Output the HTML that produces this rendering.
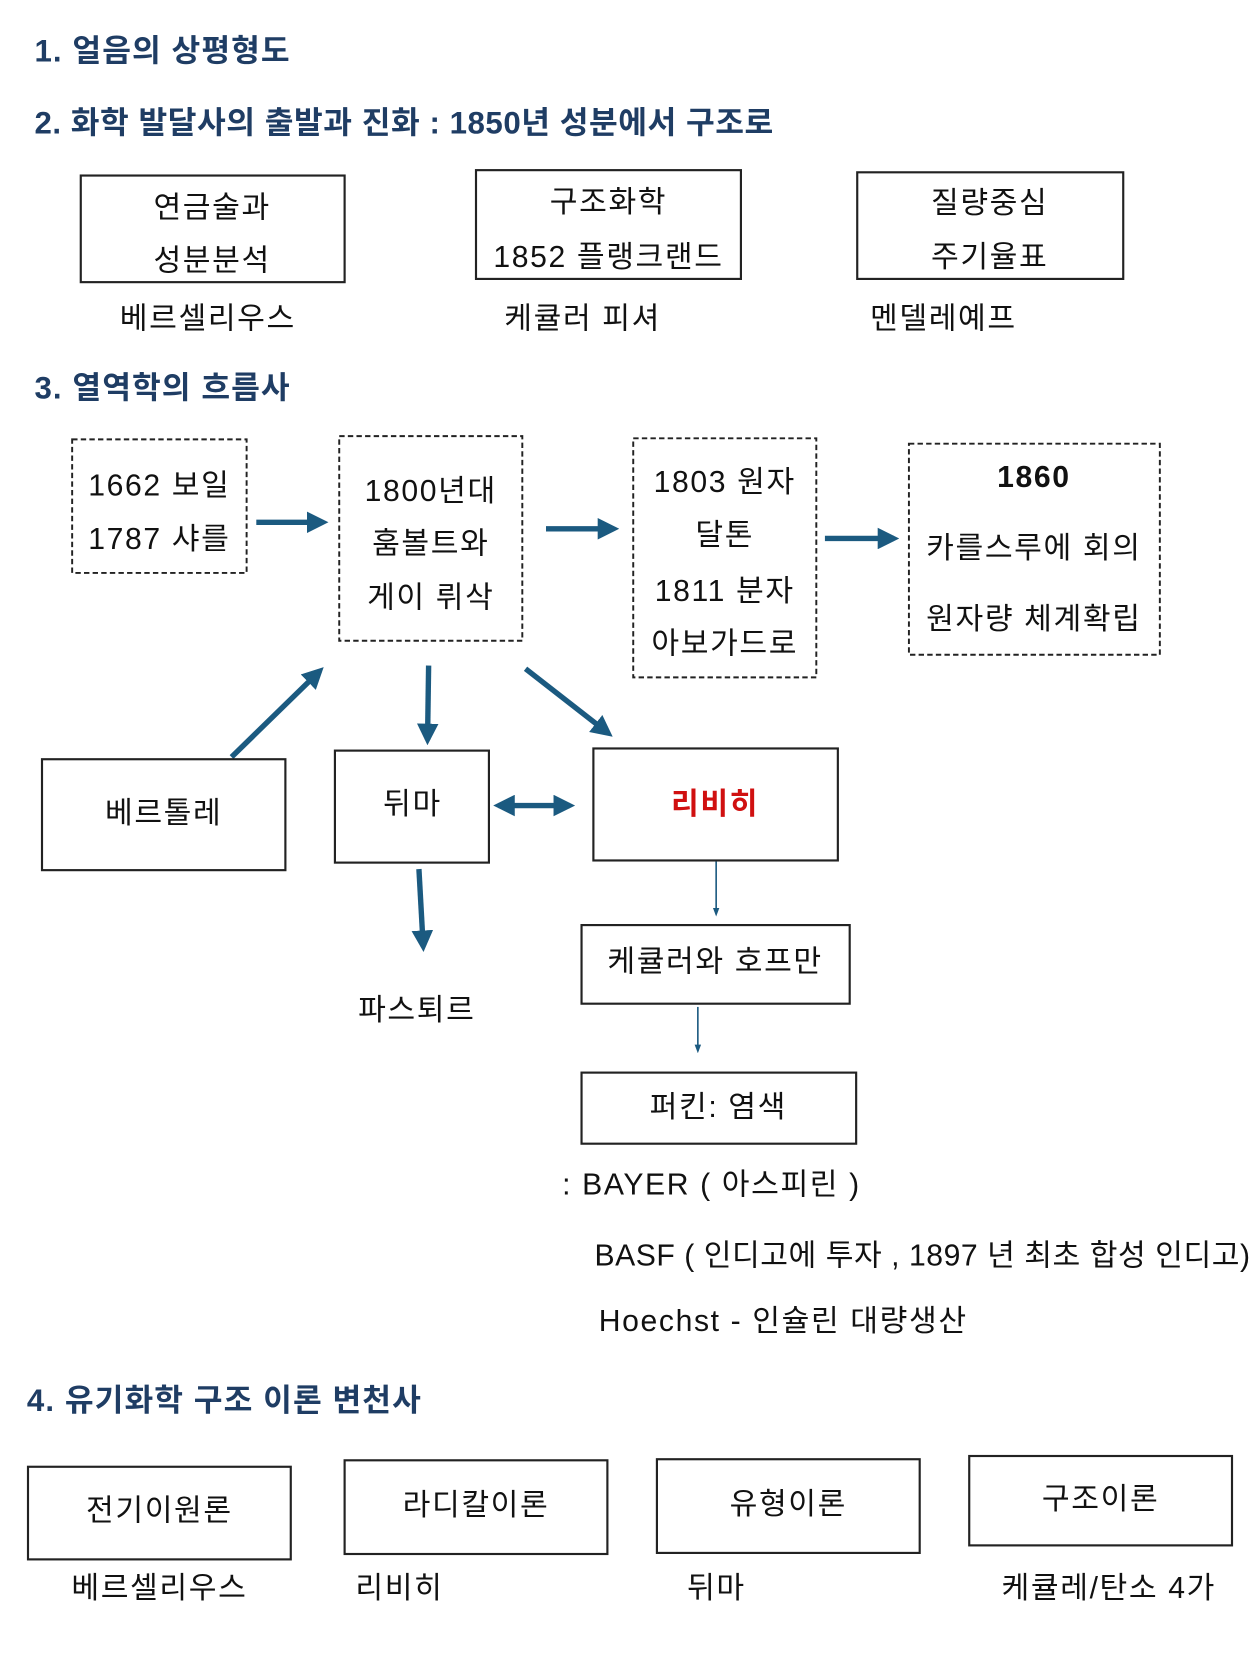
<!DOCTYPE html>
<html><head><meta charset="utf-8"><style>
html,body{margin:0;padding:0;background:#fff;}
svg{display:block;}
text{font-family:"Liberation Sans","Noto Sans CJK KR",sans-serif;fill:#111;font-size:28px;letter-spacing:1.5px;}
.h{fill:#1f3d64;font-weight:bold;font-size:29px;letter-spacing:1px;}
.c{text-anchor:middle;}
</style></head><body>
<svg width="1260" height="1680" viewBox="0 0 1170 1560" xmlns="http://www.w3.org/2000/svg">
<defs>
<marker id="a" markerWidth="4" markerHeight="4" refX="3" refY="2" orient="auto" markerUnits="strokeWidth"><path d="M0,0 L4,2 L0,4 z" fill="#1b5a80"/></marker>
<marker id="b" markerWidth="4" markerHeight="4" refX="1" refY="2" orient="auto" markerUnits="strokeWidth"><path d="M4,0 L0,2 L4,4 z" fill="#1b5a80"/></marker>
<marker id="t" markerWidth="8" markerHeight="8" refX="6" refY="4" orient="auto" markerUnits="userSpaceOnUse"><path d="M0,1 L8,4 L0,7 z" fill="#1b5a80"/></marker>
</defs>
<text class="h" x="32" y="57">1.  얼음의 상평형도</text>
<text class="h" x="32" y="124" style="letter-spacing:0.5px">2.  화학 발달사의 출발과 진화 : 1850년 성분에서 구조로</text>
<text class="h" x="32" y="370">3.  열역학의 흐름사</text>
<text class="h" x="25" y="1310">4.  유기화학 구조 이론 변천사</text>

<g fill="none" stroke="#222" stroke-width="2">
<rect x="75" y="163" width="245" height="99"/>
<rect x="442" y="158" width="246" height="101"/>
<rect x="796" y="160" width="247" height="99"/>
</g>
<text class="c" x="197" y="202">연금술과</text><text class="c" x="197" y="251">성분분석</text>
<text class="c" x="565" y="197">구조화학</text><text class="c" x="565" y="248">1852 플랭크랜드</text>
<text class="c" x="919" y="198">질량중심</text><text class="c" x="919" y="248">주기율표</text>
<text class="c" x="193" y="305">베르셀리우스</text>
<text class="c" x="541" y="305">케큘러 피셔</text>
<text class="c" x="876" y="305">멘델레예프</text>

<g fill="none" stroke="#222" stroke-width="1.8" stroke-dasharray="5,3">
<rect x="67" y="408" width="162" height="124"/>
<rect x="315" y="405" width="170" height="190"/>
<rect x="588" y="407" width="170" height="222"/>
<rect x="844" y="412" width="233" height="196"/>
</g>
<text class="c" x="148" y="460">1662 보일</text><text class="c" x="148" y="510">1787 샤를</text>
<text class="c" x="400" y="465">1800년대</text><text class="c" x="400" y="514">훔볼트와</text><text class="c" x="400" y="564">게이 뤼삭</text>
<text class="c" x="673" y="457">1803 원자</text><text class="c" x="673" y="506">달톤</text><text class="c" x="673" y="558">1811 분자</text><text class="c" x="673" y="607">아보가드로</text>
<text class="c" x="960" y="452" style="font-weight:bold">1860</text><text class="c" x="960" y="518">카를스루에 회의</text><text class="c" x="960" y="584">원자량 체계확립</text>

<g stroke="#1b5a80" stroke-width="5" fill="none">
<line x1="238" y1="485" x2="300" y2="485" marker-end="url(#a)"/>
<line x1="507" y1="491" x2="570" y2="491" marker-end="url(#a)"/>
<line x1="766" y1="500" x2="830" y2="500" marker-end="url(#a)"/>
<line x1="215" y1="703" x2="297" y2="623" marker-end="url(#a)"/>
<line x1="398" y1="618" x2="397" y2="687" marker-end="url(#a)"/>
<line x1="488" y1="621" x2="565" y2="681" marker-end="url(#a)"/>
<line x1="389" y1="807" x2="393" y2="879" marker-end="url(#a)"/>
<line x1="463" y1="748" x2="529" y2="748" marker-end="url(#a)" marker-start="url(#b)"/>
</g>
<g stroke="#1b5a80" stroke-width="1.5">
<line x1="665" y1="800" x2="665" y2="849" marker-end="url(#t)"/>
<line x1="648" y1="935" x2="648" y2="976" marker-end="url(#t)"/>
</g>

<g fill="none" stroke="#222" stroke-width="2">
<rect x="39" y="705" width="226" height="103"/>
<rect x="311" y="697" width="143" height="104"/>
<rect x="551" y="695" width="227" height="104"/>
<rect x="540" y="859" width="249" height="73"/>
<rect x="540" y="996" width="255" height="66"/>
</g>
<text class="c" x="152" y="764">베르톨레</text>
<text class="c" x="383" y="756">뒤마</text>
<text class="c" x="664" y="756" style="fill:#d01010;font-weight:bold">리비히</text>
<text class="c" x="664" y="902">케큘러와 호프만</text>
<text class="c" x="667" y="1037">퍼킨: 염색</text>
<text class="c" x="387" y="947">파스퇴르</text>
<text x="522" y="1109">:  BAYER  ( 아스피린 )</text>
<text x="552" y="1175" style="letter-spacing:0.5px">BASF ( 인디고에 투자 ,  1897 년 최초 합성 인디고)</text>
<text x="556" y="1236">Hoechst   -   인슐린  대량생산</text>

<g fill="none" stroke="#222" stroke-width="2">
<rect x="26" y="1362" width="244" height="86"/>
<rect x="320" y="1356" width="244" height="87"/>
<rect x="610" y="1355" width="244" height="87"/>
<rect x="900" y="1352" width="244" height="83"/>
</g>
<text class="c" x="148" y="1412">전기이원론</text>
<text class="c" x="442" y="1407">라디칼이론</text>
<text class="c" x="732" y="1406">유형이론</text>
<text class="c" x="1022" y="1401">구조이론</text>
<text class="c" x="148" y="1484">베르셀리우스</text>
<text x="330" y="1484">리비히</text>
<text x="638" y="1484">뒤마</text>
<text x="930" y="1484">케큘레/탄소 4가</text>
</svg>
</body></html>
